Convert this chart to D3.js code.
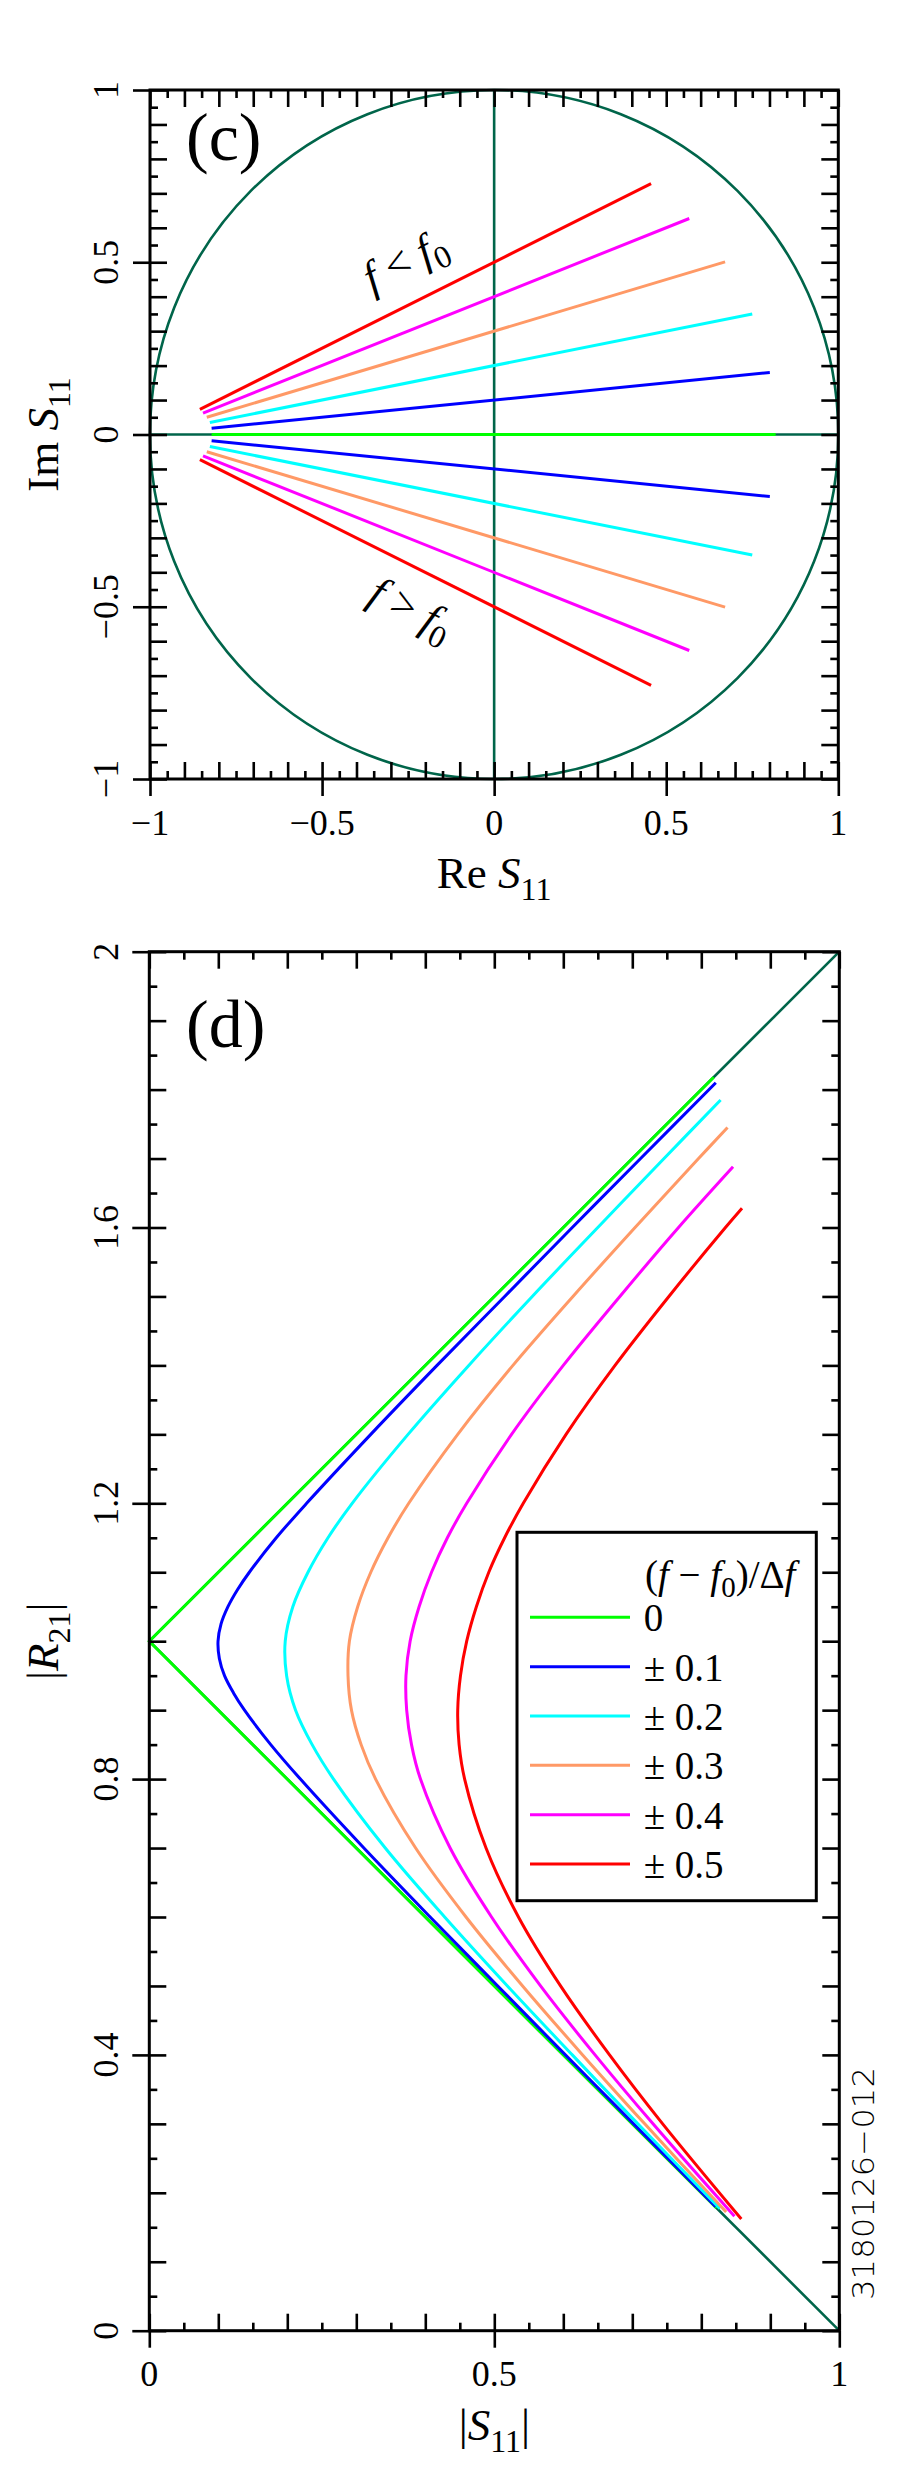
<!doctype html>
<html>
<head>
<meta charset="utf-8">
<script src="https://d3js.org/d3.v7.min.js"></script>
<style>
body { margin: 0; background: #fff; }
</style>
</head>
<body>
<svg id="fig" width="897" height="2480"></svg>
<script>
// ---------- data ----------
var legendLabels = ["0", "\u00b1 0.1", "\u00b1 0.2", "\u00b1 0.3", "\u00b1 0.4", "\u00b1 0.5"];
var lineColors = ["#00ff00", "#0000ff", "#00ffff", "#ff9966", "#ff00ff", "#ff0000"];
var guideColor = "#00654a";
var serif = "'Liberation Serif', 'Times New Roman', serif";

// panel (c): [Re S11, Im S11] at both ends of each sweep
var cZero  = [[-0.821, 0], [0.818, 0]];
var cUpper = [                       // f < f0, (f-f0)/df = -0.1 .. -0.5
  [[-0.821, 0.018], [0.801, 0.180]],
  [[-0.826, 0.035], [0.750, 0.350]],
  [[-0.835, 0.050], [0.671, 0.501]],
  [[-0.846, 0.062], [0.567, 0.627]],
  [[-0.855, 0.073], [0.456, 0.728]]
];
var cLower = [                       // f > f0, +0.1 .. +0.5
  [[-0.821, -0.018], [0.801, -0.180]],
  [[-0.826, -0.035], [0.750, -0.350]],
  [[-0.835, -0.050], [0.671, -0.501]],
  [[-0.846, -0.062], [0.567, -0.627]],
  [[-0.855, -0.073], [0.456, -0.728]]
];
var cXTicks = [-1, -0.5, 0, 0.5, 1];
var cXLabels = ["\u22121", "\u22120.5", "0", "0.5", "1"];
var cYTicks = [-1, -0.5, 0, 0.5, 1];
var cYLabels = ["\u22121", "\u22120.5", "0", "0.5", "1"];

// panel (d): [|S11|, |R21|]
var dZero = [[0.822, 0.178], [0, 1], [0.818, 1.818]];
var dGuideUp = [[0, 1], [1, 2]];
var dGuideDown = [[0, 1], [1, 0]];
var dCurves = [
  [[0.821,0.180],[0.702,0.3],[0.603,0.4],[0.505,0.5],[0.407,0.6],[0.311,0.7],[0.219,0.8],[0.176,0.85],
   [0.138,0.9],[0.122,0.925],[0.109,0.95],[0.1015,0.975],[0.0996,1.0],[0.104,1.025],[0.114,1.05],[0.128,1.075],
   [0.145,1.1],[0.184,1.15],[0.228,1.2],[0.321,1.3],[0.417,1.4],[0.515,1.5],[0.613,1.6],[0.712,1.7],[0.821,1.81]],
  [[0.827,0.177],[0.708,0.3],[0.613,0.4],[0.519,0.5],[0.428,0.6],[0.342,0.7],[0.267,0.8],[0.236,0.85],
   [0.212,0.9],[0.199,0.95],[0.197,1.0],[0.208,1.05],[0.230,1.1],[0.259,1.15],[0.294,1.2],[0.375,1.3],
   [0.463,1.4],[0.555,1.5],[0.650,1.6],[0.746,1.7],[0.828,1.785]],
  [[0.836,0.172],[0.718,0.3],[0.628,0.4],[0.541,0.5],[0.459,0.6],[0.386,0.7],[0.328,0.8],[0.307,0.85],
   [0.293,0.9],[0.288,0.95],[0.290,1.0],[0.302,1.05],[0.321,1.1],[0.346,1.15],[0.376,1.2],[0.447,1.3],
   [0.527,1.4],[0.614,1.5],[0.704,1.6],[0.796,1.7],[0.838,1.745]],
  [[0.848,0.166],[0.730,0.3],[0.646,0.4],[0.567,0.5],[0.496,0.6],[0.436,0.7],[0.393,0.8],[0.380,0.85],
   [0.373,0.9],[0.372,0.95],[0.378,1.0],[0.391,1.05],[0.409,1.1],[0.432,1.15],[0.460,1.2],[0.525,1.3],
   [0.600,1.4],[0.682,1.5],[0.767,1.6],[0.846,1.688]],
  [[0.858,0.162],[0.744,0.3],[0.667,0.4],[0.596,0.5],[0.535,0.6],[0.488,0.7],[0.457,0.8],[0.449,0.85],
   [0.447,0.9],[0.451,0.95],[0.460,1.0],[0.474,1.05],[0.492,1.1],[0.515,1.15],[0.542,1.2],[0.604,1.3],
   [0.675,1.4],[0.753,1.5],[0.835,1.6],[0.859,1.628]]
];
var dXTicks = [0, 0.5, 1];
var dXLabels = ["0", "0.5", "1"];
var dYTicks = [0, 0.4, 0.8, 1.2, 1.6, 2];
var dYLabels = ["0", "0.4", "0.8", "1.2", "1.6", "2"];

// ---------- helpers ----------
var svg = d3.select("#fig");

function rich(t, parts, subSize, drop) {
  var shift = 0;
  parts.forEach(function(p) {
    var s = t.append("tspan").text(p.t);
    var want = p.sub ? drop : 0;
    if (want !== shift) { s.attr("dy", want - shift); shift = want; }
    if (p.sub) s.attr("font-size", subSize);
    if (p.i) s.style("font-style", "italic");
  });
}

function tickRow(g, axis, vals, size, tx, ty) {
  g.append("g").attr("transform", "translate(" + tx + "," + ty + ")")
    .call(axis.tickValues(vals).tickSize(size).tickSizeOuter(0).tickFormat(""))
    .call(function(a) {
      a.select(".domain").remove();
      a.selectAll("text").remove();
      a.selectAll("line").attr("stroke", "#000").attr("stroke-width", 2.6);
    });
}

function frame(g, x, y, xStep, yStep, xMaj, yMaj) {
  var X0 = x.range()[0], X1 = x.range()[1], Y0 = y.range()[0], Y1 = y.range()[1];
  var xd = x.domain(), yd = y.domain();
  var xs = d3.range(xd[0], xd[1] + 1e-9, xStep / 2).map(function(v) { return +v.toFixed(4); });
  var ys = d3.range(yd[0], yd[1] + 1e-9, yStep / 2).map(function(v) { return +v.toFixed(4); });
  var xLong = xs.filter(function(v, i) { return i % 2 === 0; });
  var xShort = xs.filter(function(v, i) { return i % 2 === 1; });
  var yLong = ys.filter(function(v, i) { return i % 2 === 0; });
  var yShort = ys.filter(function(v, i) { return i % 2 === 1; });

  tickRow(g, d3.axisBottom(x), xLong, -17, 0, Y0);
  tickRow(g, d3.axisBottom(x), xShort, -8, 0, Y0);
  tickRow(g, d3.axisBottom(x), xMaj, 17, 0, Y0);
  tickRow(g, d3.axisTop(x), xLong, -17, 0, Y1);
  tickRow(g, d3.axisTop(x), xShort, -8, 0, Y1);
  tickRow(g, d3.axisLeft(y), yLong, -17, X0, 0);
  tickRow(g, d3.axisLeft(y), yShort, -8, X0, 0);
  tickRow(g, d3.axisLeft(y), yMaj, 17, X0, 0);
  tickRow(g, d3.axisRight(y), yLong, -17, X1, 0);
  tickRow(g, d3.axisRight(y), yShort, -8, X1, 0);

  g.append("rect").attr("x", X0).attr("y", Y1)
    .attr("width", X1 - X0).attr("height", Y0 - Y1)
    .attr("fill", "none").attr("stroke", "#000").attr("stroke-width", 3);
}

function tickLabels(g, x, y, xv, xl, xBase, yv, yl, yBase) {
  g.selectAll(null).data(xv).join("text")
    .attr("x", function(d) { return x(d); }).attr("y", xBase)
    .attr("text-anchor", "middle").attr("font-size", 36)
    .text(function(d, i) { return xl[i]; });
  g.selectAll(null).data(yv).join("text")
    .attr("transform", function(d) { return "translate(" + yBase + "," + y(d) + ") rotate(-90)"; })
    .attr("text-anchor", "middle").attr("font-size", 36)
    .text(function(d, i) { return yl[i]; });
}

// ---------- panel (c) ----------
var xC = d3.scaleLinear().domain([-1, 1]).range([150, 838.3]);
var yC = d3.scaleLinear().domain([-1, 1]).range([779, 90]);
var gc = svg.append("g");
var seg = d3.line().x(function(d) { return xC(d[0]); }).y(function(d) { return yC(d[1]); });

gc.append("ellipse")
  .attr("cx", xC(0)).attr("cy", yC(0))
  .attr("rx", xC(1) - xC(0)).attr("ry", yC(0) - yC(1))
  .attr("fill", "none").attr("stroke", guideColor).attr("stroke-width", 2.6);
gc.append("path").attr("d", seg([[0, -1], [0, 1]])).attr("stroke", guideColor).attr("stroke-width", 2.6);
gc.append("path").attr("d", seg([[-1, 0], [1, 0]])).attr("stroke", guideColor).attr("stroke-width", 2.6);

gc.append("path").attr("d", seg(cZero)).attr("fill", "none")
  .attr("stroke", lineColors[0]).attr("stroke-width", 3);
gc.selectAll(null).data(cUpper.concat(cLower)).join("path")
  .attr("d", seg).attr("fill", "none")
  .attr("stroke", function(d, i) { return lineColors[1 + (i % 5)]; })
  .attr("stroke-width", 3);

frame(gc, xC, yC, 0.1, 0.1, cXTicks, cYTicks);
tickLabels(gc, xC, yC, cXTicks, cXLabels, 835, cYTicks, cYLabels, 118);

gc.append("text").attr("x", 186).attr("y", 160).attr("font-size", 68).text("(c)");
rich(gc.append("text").attr("x", xC(0)).attr("y", 888).attr("text-anchor", "middle").attr("font-size", 45),
  [{t: "Re "}, {t: "S", i: 1}, {t: "11", sub: 1}], 32, 12);
rich(gc.append("text").attr("transform", "translate(58," + yC(0) + ") rotate(-90)")
  .attr("text-anchor", "middle").attr("font-size", 45),
  [{t: "Im "}, {t: "S", i: 1}, {t: "11", sub: 1}], 32, 12);

rich(gc.append("text").attr("transform", "translate(372,293) rotate(-26.6)").attr("font-size", 44),
  [{t: "f", i: 1}, {t: " < "}, {t: "f", i: 1}, {t: "0", sub: 1}], 32, 10);
rich(gc.append("text").attr("transform", "translate(366,602) rotate(26.6)").attr("font-size", 44),
  [{t: "f", i: 1}, {t: " > "}, {t: "f", i: 1}, {t: "0", sub: 1}], 32, 10);

// ---------- panel (d) ----------
var xD = d3.scaleLinear().domain([0, 1]).range([149.3, 839.3]);
var yD = d3.scaleLinear().domain([0, 2]).range([2330.7, 951.7]);
var gd = svg.append("g");
var lineD = d3.line().x(function(d) { return xD(d[0]); }).y(function(d) { return yD(d[1]); });
var curveD = d3.line().x(function(d) { return xD(d[0]); }).y(function(d) { return yD(d[1]); })
  .curve(d3.curveCatmullRom.alpha(0.5));

gd.append("path").attr("d", lineD(dGuideUp)).attr("stroke", guideColor).attr("stroke-width", 2.6);
gd.append("path").attr("d", lineD(dGuideDown)).attr("stroke", guideColor).attr("stroke-width", 2.6);
gd.append("path").attr("d", lineD(dZero)).attr("fill", "none")
  .attr("stroke", lineColors[0]).attr("stroke-width", 3);
gd.selectAll(null).data(dCurves).join("path")
  .attr("d", curveD).attr("fill", "none")
  .attr("stroke", function(d, i) { return lineColors[i + 1]; })
  .attr("stroke-width", 3);

frame(gd, xD, yD, 0.1, 0.1, dXTicks, dYTicks);
tickLabels(gd, xD, yD, dXTicks, dXLabels, 2386, dYTicks, dYLabels, 118);

gd.append("text").attr("x", 186).attr("y", 1047).attr("font-size", 68).text("(d)");
rich(gd.append("text").attr("x", xD(0.5)).attr("y", 2440).attr("text-anchor", "middle").attr("font-size", 45),
  [{t: "|"}, {t: "S", i: 1}, {t: "11", sub: 1}, {t: "|"}], 32, 12);
rich(gd.append("text").attr("transform", "translate(58," + yD(1) + ") rotate(-90)")
  .attr("text-anchor", "middle").attr("font-size", 45),
  [{t: "|"}, {t: "R", i: 1}, {t: "21", sub: 1}, {t: "|"}], 32, 12);

// legend
var lg = gd.append("g");
lg.append("rect").attr("x", 517).attr("y", 1532.3).attr("width", 299.3).attr("height", 368.4)
  .attr("fill", "#fff").attr("stroke", "#000").attr("stroke-width", 3);
rich(lg.append("text").attr("x", 645).attr("y", 1588).attr("font-size", 39),
  [{t: "("}, {t: "f", i: 1}, {t: " \u2212 "}, {t: "f", i: 1}, {t: "0", sub: 1}, {t: ")/\u0394"}, {t: "f", i: 1}], 29, 9);
var rows = lg.selectAll(null).data(legendLabels).join("g")
  .attr("transform", function(d, i) { return "translate(0," + (1617.3 + i * 49.35) + ")"; });
rows.append("line").attr("x1", 530).attr("x2", 630)
  .attr("stroke", function(d, i) { return lineColors[i]; }).attr("stroke-width", 3);
rows.append("text").attr("x", 643.7).attr("y", 14).attr("font-size", 39).text(function(d) { return d; });

// all chart text in a Times-like face
svg.selectAll("text").style("font-family", serif).style("fill", "#000");

// figure id
svg.append("text").attr("transform", "translate(874,2300) rotate(-90)")
  .style("font-family", "'DejaVu Sans', sans-serif").style("font-weight", 300)
  .attr("font-size", 31).attr("textLength", 233).attr("lengthAdjust", "spacingAndGlyphs")
  .text("3180126\u2212012");
</script>
</body>
</html>
